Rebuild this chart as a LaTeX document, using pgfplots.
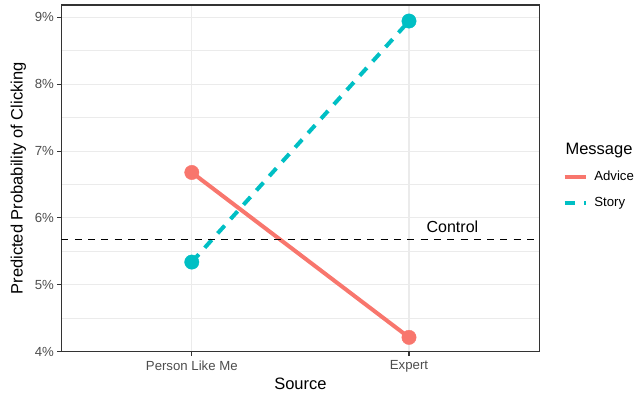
\documentclass[border=0pt]{standalone}
\usepackage{fontspec}
\setmainfont{Liberation Sans}
\usepackage{pgfplots}
\pgfplotsset{compat=1.18}
\definecolor{advice}{HTML}{F8766D}
\definecolor{story}{HTML}{00BFC4}
\definecolor{gridc}{HTML}{EBEBEB}
\definecolor{framec}{HTML}{333333}
\definecolor{ticklab}{HTML}{4D4D4D}
\begin{document}
\begin{tikzpicture}
\path[use as bounding box] (-61.5bp,-44.3bp) rectangle (573.5bp,351.7bp);
\begin{axis}[
 scale only axis, width=477.8bp, height=346.7bp,
 xmin=0.4, xmax=2.6, ymin=4, ymax=9.184,
 xtick={1,2}, xticklabels={Person Like Me, Expert},
 ytick={4,5,6,7,8,9}, yticklabels={4\%,5\%,6\%,7\%,8\%,9\%},
 minor ytick={4.5,5.5,6.5,7.5,8.5},
 grid=both,
 major grid style={color=gridc, line width=1.07bp},
 minor grid style={color=gridc, line width=0.53bp},
 axis line style={color=framec, line width=1.07bp},
 tick align=outside, xtick pos=bottom, ytick pos=left,
 major tick length=4.1bp, minor tick length=0pt,
 tick style={color=framec, line width=1.07bp},
 ticklabel style={font=\fontsize{13.2bp}{15bp}\selectfont, text=ticklab},
 xticklabel style={yshift=-1.5bp},
 xlabel={Source}, ylabel={Predicted Probability of Clicking},
 label style={font=\fontsize{16.5bp}{19bp}\selectfont},
 xlabel style={at={(axis description cs:0.5,-0.109)}, anchor=base},
 ylabel style={at={(axis description cs:-0.0812,0.5)}, anchor=base},
 clip mode=individual,
 legend style={at={(axis description cs:1.049,0.5229)}, anchor=north west,
   draw=none, fill=none, inner sep=0pt, outer sep=0pt,
   font=\fontsize{13.2bp}{15bp}\selectfont,
   nodes={inner sep=0pt, outer sep=0pt, text height=9.6bp, text depth=2.8bp},
   /tikz/column sep=6bp, /tikz/row sep=14.3bp},
 legend cell align=left,
 legend image code/.code={\draw[#1] (0bp,0bp) -- (21.6bp,0bp);},
]
\addplot[advice, line width=4bp] coordinates {(1,6.68) (2,4.214)};
\addlegendentry{Advice}
\addplot[story, line width=4bp, dash pattern=on 10.5bp off 8.8bp] coordinates {(1,5.34) (2,8.944)};
\addlegendentry{Story}
\addplot[advice, only marks, mark=*, mark size=7.2bp, forget plot] coordinates {(1,6.68) (2,4.214)};
\addplot[story, only marks, mark=*, mark size=7.2bp, forget plot] coordinates {(1,5.34) (2,8.944)};
\addplot[black, line width=1.07bp, dash pattern=on 7bp off 6.3bp, forget plot] coordinates {(0.4,5.68) (2.6,5.68)};
\node[anchor=base, font=\fontsize{16bp}{19bp}\selectfont] at (axis cs:2.2,5.778) {Control};
\node[anchor=base west, font=\fontsize{16.5bp}{19bp}\selectfont] at (axis description cs:1.0475,0.5674) {Message};
\end{axis}
\end{tikzpicture}
\end{document}
